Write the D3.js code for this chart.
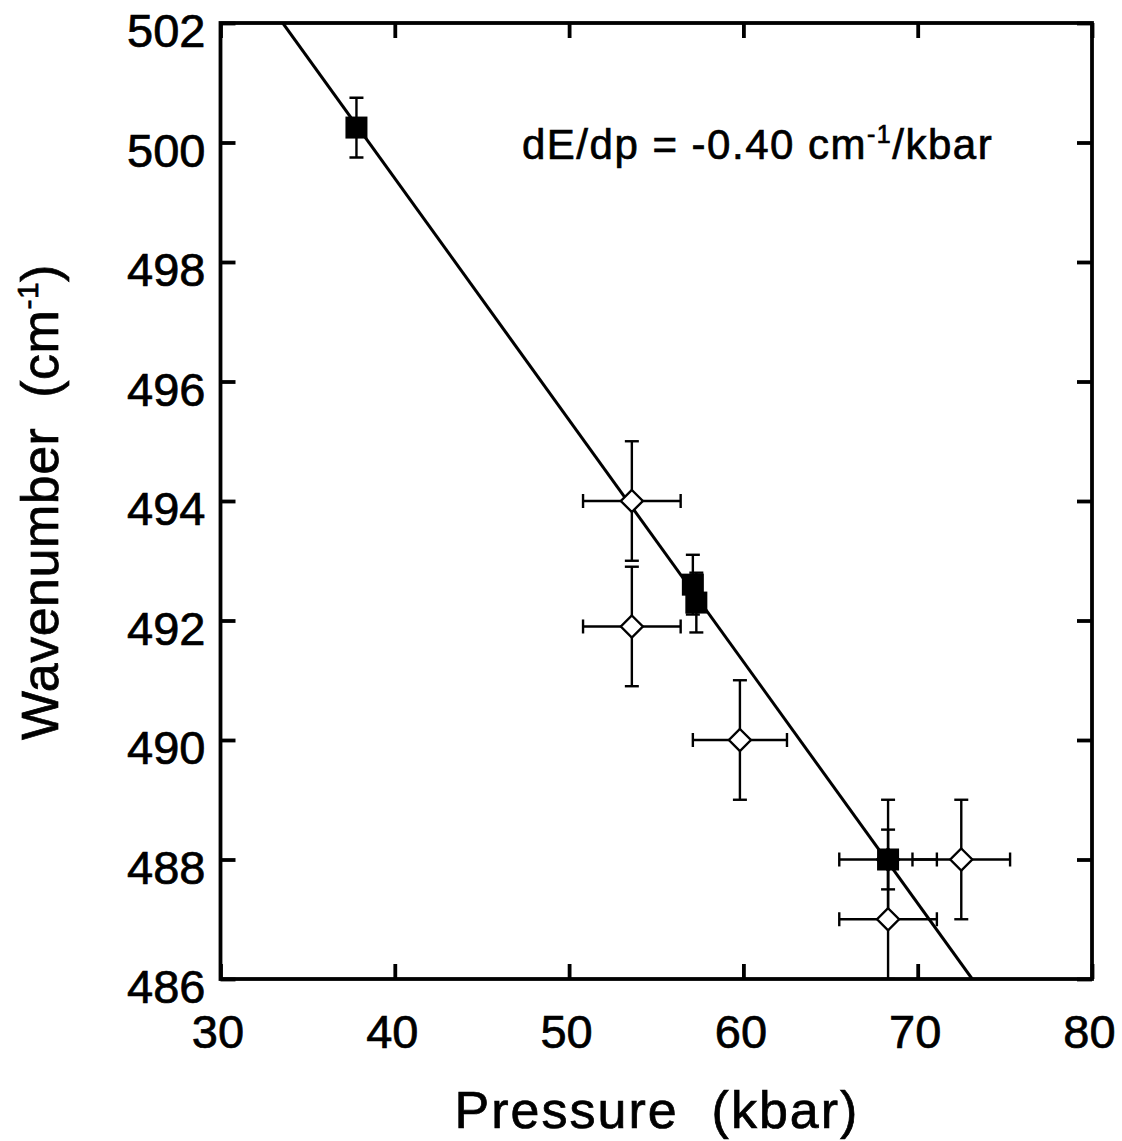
<!DOCTYPE html>
<html>
<head>
<meta charset="utf-8">
<script src="https://cdn.jsdelivr.net/npm/d3@7"></script>
<style>
  html, body { margin: 0; padding: 0; background: #fff; }
  svg { display: block; }
  text { font-family: "Liberation Sans", Arial, Helvetica, sans-serif; fill: #000; stroke: #000; stroke-width: 0.7px; }
</style>
</head>
<body>
<svg id="chart" width="1122" height="1141"></svg>
<script>
// ---- data ----
const xTicks = [30, 40, 50, 60, 70, 80];
const yTicks = [486, 488, 490, 492, 494, 496, 498, 500, 502];

// filled squares
const sqX    = [37.8, 57.1, 57.3, 68.3];
const sqY    = [500.25, 492.6, 492.3, 488.0];
const sqYErr = [0.5, 0.5, 0.5, 0.5];

// open diamonds
const dmX    = [53.6, 53.6, 59.8, 68.3, 68.3, 72.5];
const dmY    = [494.0, 491.9, 490.0, 488.0, 487.0, 488.0];
const dmXErr = [2.8, 2.8, 2.7, 2.8, 2.8, 2.8];
const dmYErr = [1.0, 1.0, 1.0, 1.0, 1.0, 1.0];

// linear fit
const fitSlope = -0.4045;
const fitIntercept = 515.58;

// ---- layout ----
const svg = d3.select("#chart");
const L = 220.5, R = 1092, T = 23, B = 979;
const x = d3.scaleLinear().domain([30, 80]).range([L, R]);
const y = d3.scaleLinear().domain([486, 502]).range([B, T]);

svg.append("defs").append("clipPath").attr("id", "plotclip")
  .append("rect").attr("x", L).attr("y", T).attr("width", R - L).attr("height", B - T);

const plot = svg.append("g").attr("clip-path", "url(#plotclip)");

const capW = 7;
const dm = dmX.map((v, i) => ({x: v, y: dmY[i], xe: dmXErr[i], ye: dmYErr[i]}));
const sq = sqX.map((v, i) => ({x: v, y: sqY[i], ye: sqYErr[i]}));

function drawErr(g, d) {
  const cx = x(d.x), cy = y(d.y);
  if (d.ye) {
    const y1 = y(d.y + d.ye), y2 = y(d.y - d.ye);
    g.append("line").attr("x1", cx).attr("x2", cx).attr("y1", y1).attr("y2", y2);
    g.append("line").attr("x1", cx - capW).attr("x2", cx + capW).attr("y1", y1).attr("y2", y1);
    g.append("line").attr("x1", cx - capW).attr("x2", cx + capW).attr("y1", y2).attr("y2", y2);
  }
  if (d.xe) {
    const x1 = x(d.x - d.xe), x2 = x(d.x + d.xe);
    g.append("line").attr("x1", x1).attr("x2", x2).attr("y1", cy).attr("y2", cy);
    g.append("line").attr("x1", x1).attr("x2", x1).attr("y1", cy - capW).attr("y2", cy + capW);
    g.append("line").attr("x1", x2).attr("x2", x2).attr("y1", cy - capW).attr("y2", cy + capW);
  }
}

const errG = plot.append("g").attr("stroke", "#000").attr("stroke-width", 2.4);
dm.forEach(d => drawErr(errG, d));
sq.forEach(d => drawErr(errG, d));

// fit line
const xa = (502 - fitIntercept) / fitSlope, xb = (486 - fitIntercept) / fitSlope;
plot.append("line")
  .attr("x1", x(xa)).attr("y1", y(fitIntercept + fitSlope * xa))
  .attr("x2", x(xb)).attr("y2", y(fitIntercept + fitSlope * xb))
  .attr("stroke", "#000").attr("stroke-width", 3);

// diamonds
const dr = 11;
plot.append("g").selectAll("path").data(dm).join("path")
  .attr("d", d => {
    const cx = x(d.x), cy = y(d.y);
    return `M${cx},${cy - dr}L${cx + dr},${cy}L${cx},${cy + dr}L${cx - dr},${cy}Z`;
  })
  .attr("fill", "#fff").attr("stroke", "#000").attr("stroke-width", 2.4);

// squares
const sh = 11;
plot.append("g").selectAll("rect").data(sq).join("rect")
  .attr("x", d => x(d.x) - sh).attr("y", d => y(d.y) - sh)
  .attr("width", 2 * sh).attr("height", 2 * sh)
  .attr("fill", "#000");

// ---- axes ----
const fs = 47;
const gx = svg.append("g").attr("transform", `translate(0,${B})`)
  .call(d3.axisBottom(x).tickValues(xTicks).tickSizeInner(-15).tickSizeOuter(0).tickPadding(36));
const gy = svg.append("g").attr("transform", `translate(${L},0)`)
  .call(d3.axisLeft(y).tickValues(yTicks).tickSizeInner(-15).tickSizeOuter(0).tickPadding(15));
const gt = svg.append("g").attr("transform", `translate(0,${T})`)
  .call(d3.axisTop(x).tickValues(xTicks).tickSizeInner(-15).tickSizeOuter(0).tickFormat(""));
const gr = svg.append("g").attr("transform", `translate(${R},0)`)
  .call(d3.axisRight(y).tickValues(yTicks).tickSizeInner(-15).tickSizeOuter(0).tickFormat(""));

[gx, gy, gt, gr].forEach(g => {
  g.select(".domain").remove();
  g.selectAll(".tick line").attr("stroke", "#000").attr("stroke-width", 3.8);
  g.selectAll(".tick text").attr("font-size", fs).attr("fill", "#000")
    .style("font-family", '"Liberation Sans", Arial, sans-serif');
});
gy.selectAll(".tick text").attr("dy", "0.5em");
gx.selectAll(".tick text").attr("dx", -3);

svg.append("rect").attr("x", L).attr("y", T).attr("width", R - L).attr("height", B - T)
  .attr("fill", "none").attr("stroke", "#000").attr("stroke-width", 3.8);

// ---- titles ----
const xt = svg.append("text").attr("x", 657).attr("y", 1128)
  .attr("text-anchor", "middle").attr("font-size", 52).attr("letter-spacing", 2)
  .attr("xml:space", "preserve");
xt.text("Pressure  (kbar)");

const yt = svg.append("text").attr("transform", "translate(58,502) rotate(-90)")
  .attr("text-anchor", "middle").attr("font-size", 52).attr("letter-spacing", 0.5)
  .attr("xml:space", "preserve");
yt.append("tspan").text("Wavenumber  (cm");
yt.append("tspan").attr("font-size", 30).attr("dy", -20).text("-1");
yt.append("tspan").attr("dy", 20).text(")");

const an = svg.append("text").attr("x", 522).attr("y", 159)
  .attr("font-size", 42).attr("letter-spacing", 1.5);
an.append("tspan").text("dE/dp = -0.40 cm");
an.append("tspan").attr("font-size", 25).attr("dy", -16).text("-1");
an.append("tspan").attr("dy", 16).text("/kbar");
</script>
</body>
</html>
